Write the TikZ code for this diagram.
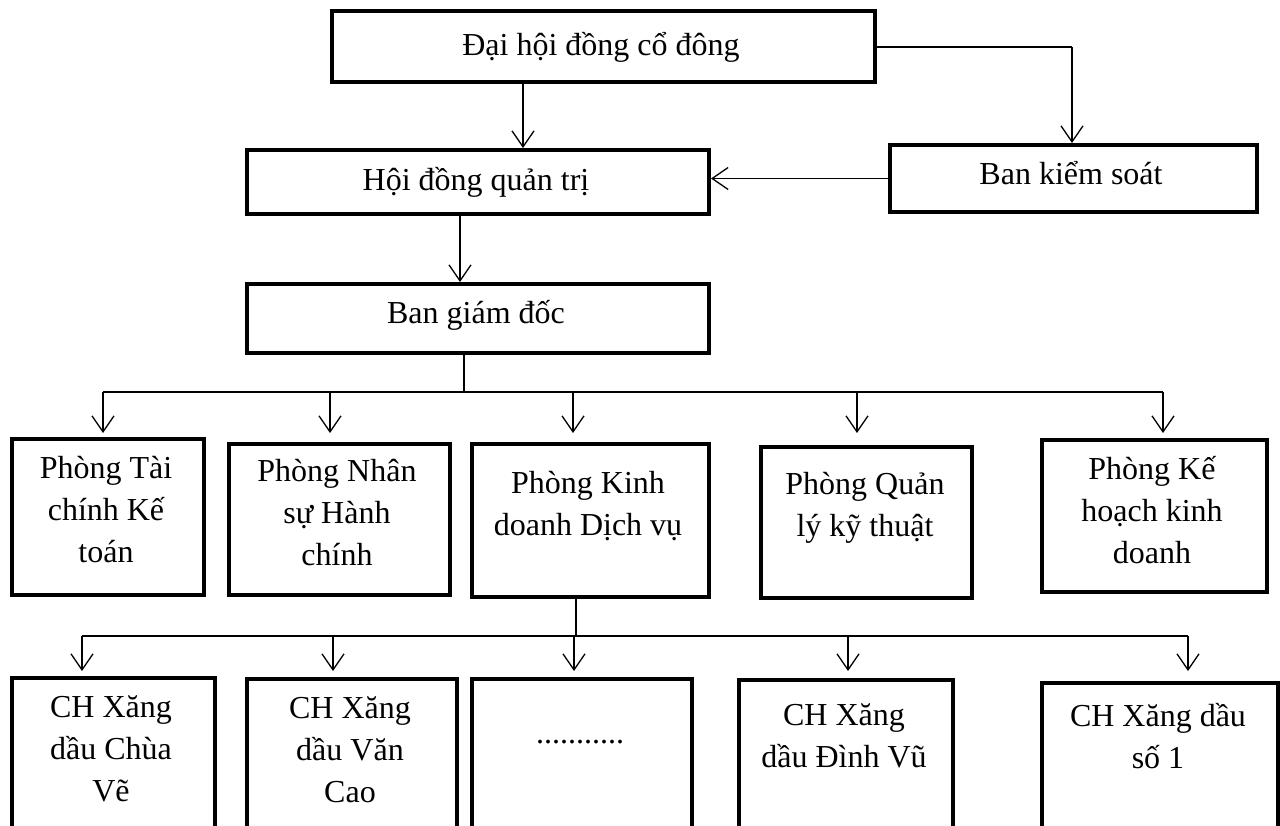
\documentclass[tikz,border=0pt]{standalone}
\usepackage{fontspec}
\setmainfont{Liberation Serif}
\usetikzlibrary{arrows.meta}

% box from (left,top) to (right,bottom), in pixel-like units
\newcommand{\orgbox}[5]{%
  \node[box, minimum width={(#4)-(#2)}, minimum height={(#5)-(#3)}, anchor=north west] (#1) at (#2,#3) {};}

\begin{document}
\begin{tikzpicture}[x=1pt,y=-1pt,
  box/.style={draw, line width=4pt, rectangle, inner sep=0pt},
  % labels are placed by the baseline of their last line
  lbl/.style={font=\fontsize{32}{42}\selectfont, align=center, inner sep=0pt, anchor=base},
  conn/.style={line width=1.3pt},
  arr/.style={conn, -{Straight Barb[length=16pt,width=22pt]}}]
\useasboundingbox (0,0) rectangle (1280,825);
\clip (0,0) rectangle (1280,825);

% --- top levels
\orgbox{dh}{330}{9}{873}{80}
\node[lbl] (tdh) at (601,55) {Đại hội đồng cổ đông};
\orgbox{hd}{245}{148}{707}{212}
\node[lbl] (thd) at (476,190) {Hội đồng quản trị};
\orgbox{bks}{888}{143}{1255}{210}
\node[lbl] (tbks) at (1071,184) {Ban kiểm soát};
\orgbox{bgd}{245}{282}{707}{351}
\node[lbl] (tbgd) at (476,323) {Ban giám đốc};

% --- departments
\orgbox{p1}{10}{437}{202}{593}
\node[lbl] (tp1) at (106,562) {Phòng Tài\\chính Kế\\toán};
\orgbox{p2}{227}{442}{448}{593}
\node[lbl] (tp2) at (337,565) {Phòng Nhân\\sự Hành\\chính};
\orgbox{p3}{470}{442}{707}{595}
\node[lbl] (tp3) at (588,535) {Phòng Kinh\\doanh Dịch vụ};
\orgbox{p4}{759}{445}{970}{596}
\node[lbl] (tp4) at (865,536) {Phòng Quản\\lý kỹ thuật};
\orgbox{p5}{1040}{438}{1265}{590}
\node[lbl] (tp5) at (1152,563) {Phòng Kế\\hoạch kinh\\doanh};

% --- stations
\orgbox{s1}{10}{676}{213}{860}
\node[lbl] (ts1) at (111,801) {CH Xăng\\dầu Chùa\\Vẽ};
\orgbox{s2}{245}{677}{455}{860}
\node[lbl] (ts2) at (350,802) {CH Xăng\\dầu Văn\\Cao};
\orgbox{s3}{470}{677}{690}{860}
\node[lbl] (ts3) at (580,743) {...........};
\orgbox{s4}{737}{678}{951}{860}
\node[lbl] (ts4) at (844,767) {CH Xăng\\dầu Đình Vũ};
\orgbox{s5}{1040}{681}{1276}{860}
\node[lbl] (ts5) at (1158,768) {CH Xăng dầu\\số 1};

% --- upper connectors
\coordinate (c1) at (523,0);
\draw[arr] (c1 |- dh.south) -- (c1 |- hd.north);
\coordinate (c2) at (1072,47);
\draw[conn] (c2 -| dh.east) -- (c2);
\draw[arr] (c2) -- (c2 |- bks.north);
\draw[arr] (bks.west) -- (bks.west -| hd.east);
\coordinate (c3) at (460,0);
\draw[arr] (c3 |- hd.south) -- (c3 |- bgd.north);

% --- bus to departments
\coordinate (busA) at (464,392);
\coordinate (tipA) at (0,433);
\draw[conn] (busA |- bgd.south) -- (busA);
\coordinate (a1) at (103,392);
\coordinate (a2) at (330,392);
\coordinate (a3) at (573,392);
\coordinate (a4) at (857,392);
\coordinate (a5) at (1163,392);
\draw[conn] (a1) -- (a5);
\foreach \k in {1,...,5} \draw[arr] (a\k) -- (a\k |- tipA);

% --- bus to stations
\coordinate (busB) at (576,636);
\coordinate (tipB) at (0,671);
\draw[conn] (busB |- p3.south) -- (busB);
\coordinate (b1) at (82,636);
\coordinate (b2) at (333,636);
\coordinate (b3) at (574,636);
\coordinate (b4) at (848,636);
\coordinate (b5) at (1188,636);
\draw[conn] (b1) -- (b5);
\foreach \k in {1,...,5} \draw[arr] (b\k) -- (b\k |- tipB);
\end{tikzpicture}
\end{document}
